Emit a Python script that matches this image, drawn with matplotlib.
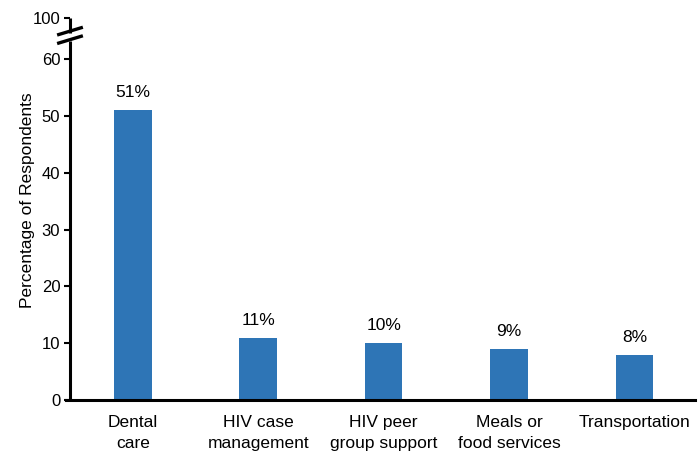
import numpy as np
import matplotlib.pyplot as plt
import matplotlib.transforms as mtransforms

plt.rcParams['font.family'] = ['Liberation Sans', 'DejaVu Sans']

categories = ['Dental\ncare', 'HIV case\nmanagement', 'HIV peer\ngroup support',
              'Meals or\nfood services', 'Transportation']
values = [51, 11, 10, 9, 8]
labels = ['51%', '11%', '10%', '9%', '8%']
ytick_vals = [0, 10, 20, 30, 40, 50, 60]

# 100 sits above the break, drawn at this position on the axis
top_pos = 67.2

fig = plt.figure(figsize=(7, 4.51), dpi=100)
ax = fig.add_axes([0.1, 0.113, 0.896, 0.852])

x = np.arange(len(categories))
ax.bar(x, values, width=0.3, color='#2E75B6')

for xi, v, lab in zip(x, values, labels):
    ax.annotate(lab, (xi, v), xytext=(0, 7), textcoords='offset points',
                ha='center', va='bottom', fontsize=12.5)

ax.set_xlim(-0.5, len(categories) - 0.5)
ax.set_ylim(0, 67.6)
ax.set_yticks(ytick_vals + [top_pos])
ax.set_yticklabels([str(t) for t in ytick_vals] + ['100'], fontsize=12)
ax.set_xticks(x)
ax.set_xticklabels(categories, fontsize=12.5, linespacing=1.5)
ax.tick_params(axis='x', length=0, pad=11)
ax.tick_params(axis='y', direction='out', length=4, width=1.5, pad=3)

ax.set_ylabel('Percentage of Respondents', fontsize=12.5)
ax.yaxis.set_label_coords(-0.056, 0.52)

for s in ['top', 'right', 'left']:
    ax.spines[s].set_visible(False)
ax.spines['bottom'].set_linewidth(2.2)
ax.spines['bottom'].set_bounds(-0.53, len(categories) - 0.52)

# broken left axis
trans = mtransforms.blended_transform_factory(ax.transAxes, ax.transData)
ax.plot([0, 0], [0, 63.2], transform=trans, color='black', lw=2.2, clip_on=False,
        solid_capstyle='butt')
ax.plot([0, 0], [64.6, top_pos], transform=trans, color='black', lw=2.2,
        clip_on=False, solid_capstyle='butt')
for yc in [64.9, 63.4]:
    ax.plot([-0.018, 0.018], [yc - 0.6, yc + 0.6], transform=trans,
            color='black', lw=2.4, clip_on=False)

fig.savefig('out.png', dpi=100)
